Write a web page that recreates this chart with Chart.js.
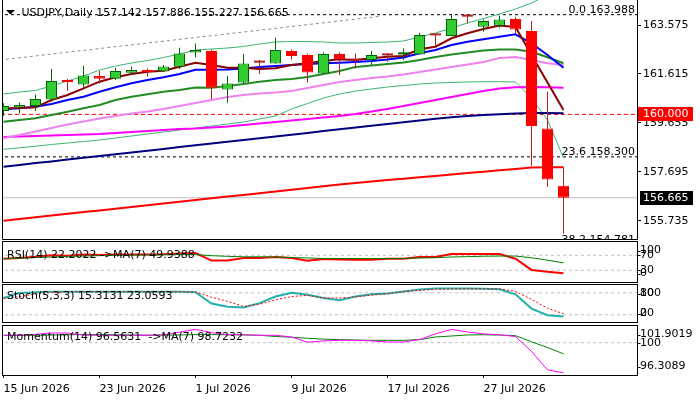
<!DOCTYPE html>
<html><head><meta charset="utf-8">
<script src="https://cdn.jsdelivr.net/npm/chart.js@4.4.1/dist/chart.umd.min.js"></script>
<style>
html,body{margin:0;padding:0;background:#fff;}
#wrap{position:relative;width:700px;height:400px;overflow:hidden;background:#fff;}
canvas{position:absolute;left:0;top:0;}
</style></head><body>
<div id="wrap">
<canvas id="cMain" width="700" height="400"></canvas>
<canvas id="cRsi" width="700" height="400"></canvas>
<canvas id="cSto" width="700" height="400"></canvas>
<canvas id="cMom" width="700" height="400"></canvas>
</div>
<script>
// ---------------- DATA ----------------
const symbolName = 'USDJPY,Daily';
const dates = ['15 Jun 2026','16 Jun 2026','17 Jun 2026','18 Jun 2026','19 Jun 2026','22 Jun 2026','23 Jun 2026','24 Jun 2026','25 Jun 2026','26 Jun 2026','29 Jun 2026','30 Jun 2026','1 Jul 2026','2 Jul 2026','3 Jul 2026','6 Jul 2026','7 Jul 2026','8 Jul 2026','9 Jul 2026','10 Jul 2026','13 Jul 2026','14 Jul 2026','15 Jul 2026','16 Jul 2026','17 Jul 2026','20 Jul 2026','21 Jul 2026','22 Jul 2026','23 Jul 2026','24 Jul 2026','27 Jul 2026','28 Jul 2026','29 Jul 2026','30 Jul 2026','31 Jul 2026','3 Aug 2026'];
const dateTickIdx = [0,6,12,18,24,30];

const opens  = [160.135,160.28,160.335,160.6,161.375,161.2,161.535,161.43,161.67,161.775,161.72,161.91,162.48,162.535,161.0,161.28,162.095,162.04,162.535,162.375,161.64,162.415,162.175,162.175,162.415,162.4,162.4,163.19,163.135,163.95,163.51,163.55,163.815,163.335,159.44,157.142];
const highs  = [160.45,160.48,160.8,161.815,161.415,161.95,161.735,161.855,161.91,161.84,161.975,162.67,162.84,162.6,161.535,162.415,162.175,163.07,162.6,162.44,162.48,162.48,162.44,162.535,162.44,162.64,163.27,163.2,163.975,163.988,163.8,163.935,163.91,163.735,160.91,157.886];
const lows   = [159.95,160.04,160.135,160.51,160.95,161.08,161.24,161.375,161.575,161.51,161.72,161.815,162.28,160.6,160.47,161.24,161.615,162.04,162.2,161.28,161.64,161.575,161.84,161.975,162.11,162.175,162.4,162.71,163.135,163.64,163.31,163.47,163.24,157.95,157.11,155.227];
const closes = [160.335,160.375,160.615,161.335,161.295,161.56,161.43,161.735,161.775,161.695,161.92,162.44,162.575,161.07,161.24,162.04,162.07,162.575,162.335,161.68,162.415,162.215,162.15,162.375,162.36,162.455,163.175,163.16,163.815,163.91,163.735,163.8,163.4,159.535,157.4,156.665];

const emaFast   = [160.243,160.255,160.283,160.575,160.775,161.043,161.307,161.483,161.615,161.707,161.747,161.907,162.067,161.975,161.867,161.867,161.815,161.843,161.975,162.043,162.135,162.203,162.175,162.243,162.307,162.335,162.603,162.707,163.043,163.243,163.415,163.555,163.495,162.375,161.275,160.175];
const emaMid    = [160.203,160.243,160.307,160.415,160.575,160.707,160.907,161.083,161.243,161.375,161.483,161.615,161.787,161.787,161.795,161.835,161.895,161.935,161.975,162.015,162.043,162.067,162.095,162.135,162.195,162.275,162.443,162.575,162.775,162.907,163.003,163.107,163.203,162.843,162.375,161.867];
const sma20     = [159.707,159.775,159.843,159.975,160.107,160.243,160.375,160.575,160.707,160.803,160.907,160.975,161.075,161.067,161.135,161.215,161.307,161.375,161.415,161.495,161.615,161.735,161.895,161.955,162.015,162.075,162.175,162.295,162.395,162.475,162.555,162.595,162.595,162.507,162.283,162.043];
const bbUpper   = [160.815,160.895,160.955,161.135,161.335,161.535,161.775,161.935,162.055,162.155,162.275,162.415,162.575,162.615,162.655,162.715,162.815,162.895,162.915,162.915,162.895,162.855,162.855,162.875,162.895,162.935,163.095,163.255,163.455,163.655,163.835,164.015,164.215,164.455,164.775,165.815];
const bbLower   = [158.603,158.663,158.727,158.795,158.855,158.915,158.975,159.055,159.135,159.215,159.295,159.375,159.455,159.535,159.615,159.695,159.815,159.935,160.215,160.435,160.655,160.815,160.935,161.015,161.095,161.155,161.215,161.255,161.275,161.295,161.307,161.307,161.295,160.655,159.775,158.255];
const maViolet  = [159.043,159.175,159.315,159.455,159.595,159.715,159.835,159.935,160.035,160.115,160.215,160.335,160.455,160.575,160.695,160.775,160.835,160.875,160.935,161.055,161.175,161.295,161.375,161.455,161.515,161.595,161.695,161.795,161.895,161.995,162.095,162.255,162.295,162.175,162.043,161.975];
const maMagenta = [159.095,159.115,159.135,159.155,159.175,159.195,159.215,159.255,159.295,159.335,159.375,159.415,159.435,159.475,159.515,159.575,159.635,159.695,159.755,159.815,159.875,159.935,160.015,160.115,160.215,160.335,160.455,160.575,160.695,160.815,160.935,161.035,161.083,161.095,161.083,161.067];
const maNavy    = [157.907,157.979,158.051,158.119,158.191,158.263,158.335,158.407,158.475,158.547,158.619,158.691,158.763,158.831,158.903,158.975,159.047,159.119,159.187,159.259,159.331,159.403,159.475,159.543,159.615,159.687,159.755,159.827,159.887,159.935,159.975,160.007,160.035,160.055,160.055,160.043];
const ma200     = [155.747,155.815,155.883,155.955,156.023,156.091,156.159,156.227,156.299,156.367,156.435,156.503,156.571,156.643,156.711,156.779,156.847,156.915,156.987,157.055,157.123,157.191,157.259,157.315,157.371,157.427,157.483,157.539,157.595,157.651,157.707,157.763,157.819,157.875,157.883,157.883];

const trendX = [-0.22, 23.6];
const trendY = [162.175, 163.927];
const fibNames  = ['0.0','23.6','38.2'];
const fibValues = [163.988, 158.300, 154.781];
const redLevel = 160.000;
const bidPrice = 156.665;
const priceTicks = [163.575, 161.615, 159.655, 157.695, 155.735];

const rsi    = [61,63,66,70,69,72,71,72,72,72,73,75,76,56,56,62.8,62.8,65.5,62.8,55.6,60,59,58.3,58.3,61,61,65.5,65.5,73.5,73.5,73.5,73.5,61,31,26,22.2022];
const rsiMa  = [61,62,64,65.5,67,68,69,70,70.5,71,71.5,72,72,69,67.3,66,66,65.5,64,63,61.5,61.5,61.5,61.5,61,61.5,62.8,63.5,65.5,66.5,67.5,68,68,63.5,57,49.9388];
const rsiLevels = [70, 30];
const rsiAxis = [100, 70, 30, 0];

const stochK = [66,80,82,83,83,83,83,83,83,83,83,83,82,51,42,40,52,70,80,75,66,60,70,76,78,84,89,91.8,92,92,91,90,76,37,19,15.3131];
const stochD = [64,70,77,81,83,83,83,83,83,83,83,83,83,68,57,43,49,61,70,73,66,66,69,73.6,78,83,87,90,90.5,91,91,91,84,62,38,23.0593];
const stochLevels = [80, 20];
const stochAxis = [100, 80, 20, 0];

const mom   = [100.84,100.84,100.95,101.1,101.1,100.86,100.84,100.84,100.84,100.84,100.9,101.2,101.52,101.15,100.91,100.91,100.84,100.84,100.65,100.05,100.2,100.27,100.27,100.2,100.08,100.08,100.35,101.0,101.52,101.22,101.0,100.9,100.7,99.0,96.9,96.5631];
const momMa = [100.84,100.84,100.85,100.87,100.9,100.92,100.92,100.9,100.88,100.86,100.86,100.88,100.92,100.92,100.9,100.88,100.85,100.7,100.62,100.5,100.4,100.35,100.3,100.27,100.27,100.27,100.35,100.65,100.76,100.88,100.9,100.87,100.8,100.1,99.45,98.7232];
const momLevels = [100];
const momAxis = [101.9019, 100, 96.3089];

// ---------------- SETUP ----------------
const FONT = "11px 'DejaVu Sans'";
Chart.defaults.font.family = "'DejaVu Sans', sans-serif";
Chart.defaults.font.size = 11;
Chart.defaults.color = '#000';
Chart.defaults.animation = false;

const X_MIN = -0.03125, X_MAX = X_MIN + 634 / 16;
const xy = arr => arr.map((v, i) => ({x: i, y: v}));
const hline = v => [{x: X_MIN - 1, y: v}, {x: X_MAX + 1, y: v}];
const N = closes.length;
const isUp = i => closes[i] >= opens[i];
const isDoji = i => Math.abs(closes[i] - opens[i]) < 0.06;
const wickCol = i => isUp(i) ? '#006400' : '#B22222';

function lineSet(data, color, width, order, dash) {
  return {type: 'line', data, borderColor: color, borderWidth: width, pointRadius: 0,
    fill: false, tension: 0, order, borderDash: dash || [], borderCapStyle: 'butt'};
}

function baseOpts(pad, yMin, yMax) {
  return {
    responsive: false, animation: false, events: [],
    layout: {padding: pad},
    plugins: {legend: {display: false}, tooltip: {enabled: false}},
    scales: {
      x: {type: 'linear', min: X_MIN, max: X_MAX, offset: false, display: false},
      y: {type: 'linear', min: yMin, max: yMax, display: false}
    }
  };
}

// ---------------- MAIN CHART ----------------
const mainSets = [
  {type: 'bar', data: opens.map((o, i) => ({x: i, y: [o, closes[i]]})),
   backgroundColor: opens.map((o, i) => isDoji(i) ? wickCol(i) : (isUp(i) ? '#32CD32' : '#FF0000')),
   borderColor: opens.map((o, i) => isDoji(i) ? wickCol(i) : (isUp(i) ? '#006400' : '#FF0000')),
   borderWidth: ctx => isDoji(ctx.dataIndex) ? 0 : 1,
   borderSkipped: false, barThickness: 11, minBarLength: 2, grouped: false, inflateAmount: 0, order: 0},
  {type: 'bar', data: lows.map((l, i) => ({x: i, y: [l, highs[i]]})),
   backgroundColor: lows.map((l, i) => wickCol(i)), borderWidth: 0,
   barThickness: 1, grouped: false, inflateAmount: 0, order: 1},
  lineSet(xy(emaFast), '#8B0000', 2, 2),
  lineSet(xy(emaMid), '#0000FF', 2, 3),
  lineSet(xy(sma20), '#228B22', 2, 4),
  lineSet(xy(maViolet), '#EE82EE', 2, 5),
  lineSet(xy(maMagenta), '#FF00FF', 2, 6),
  lineSet(xy(maNavy), '#000080', 2, 7),
  lineSet(xy(ma200), '#FF0000', 2, 8),
  lineSet(xy(bbUpper), '#3CB371', 1, 9),
  lineSet(xy(bbLower), '#3CB371', 1, 9),
  lineSet(trendX.map((x, k) => ({x, y: trendY[k]})), '#8C8C8C', 1, 10, [3, 3]),
  ...fibValues.map(v => lineSet(hline(v), '#000000', 1, 10, [3, 3])),
  lineSet(hline(redLevel), '#FF0000', 1, 10, [4, 3]),
  lineSet(hline(bidPrice), '#C0C0C0', 1, 11)
];

const mainOpts = baseOpts({left: 3, top: 0, right: 0, bottom: 161}, 155.015, 164.575);
mainOpts.scales.y = {
  type: 'linear', position: 'right', min: 155.015, max: 164.575, display: true,
  border: {display: true, color: '#000', width: 1},
  grid: {display: true, drawOnChartArea: false, drawTicks: true, tickLength: 4, color: '#000'},
  ticks: {padding: 2, color: '#000', autoSkip: false, font: {size: 11}, callback: v => Number(v).toFixed(3)},
  afterBuildTicks: ax => { ax.ticks = priceTicks.map(v => ({value: v})); },
  afterFit: ax => { ax.width = 63; ax.paddingTop = 0; ax.paddingBottom = 0; }
};

const mainDeco = {
  id: 'mainDeco',
  afterDatasetsDraw(chart) {
    const {ctx, chartArea: ca, scales: {y}} = chart;
    ctx.save();
    ctx.beginPath(); ctx.rect(ca.left, ca.top, ca.right - ca.left, ca.bottom - ca.top); ctx.clip();
    ctx.font = FONT; ctx.fillStyle = '#000'; ctx.textAlign = 'right'; ctx.textBaseline = 'alphabetic';
    fibValues.forEach((v, k) => ctx.fillText(fibNames[k] + ' ' + v.toFixed(3), ca.right - 2, Math.round(y.getPixelForValue(v)) - 2));
    ctx.restore();
  },
  afterDraw(chart) {
    const {ctx, chartArea: ca, scales: {y}} = chart;
    ctx.save();
    ctx.strokeStyle = '#000'; ctx.lineWidth = 1;
    ctx.beginPath();
    ctx.moveTo(ca.left - 0.5, ca.top); ctx.lineTo(ca.left - 0.5, ca.bottom + 0.5);
    ctx.lineTo(ca.right + 0.5, ca.bottom + 0.5); ctx.lineTo(ca.right + 0.5, ca.top);
    ctx.stroke();
    // header
    ctx.fillStyle = '#000';
    ctx.beginPath(); ctx.moveTo(6, 10); ctx.lineTo(15, 10); ctx.lineTo(10.5, 14.5); ctx.closePath(); ctx.fill();
    ctx.font = FONT; ctx.textAlign = 'left'; ctx.textBaseline = 'alphabetic';
    const L = N - 1;
    ctx.fillText(symbolName + ' ' + [opens[L], highs[L], lows[L], closes[L]].map(v => v.toFixed(3)).join(' '), 21.5, 16);
    // price boxes
    ctx.textBaseline = 'middle';
    const yr = Math.round(y.getPixelForValue(redLevel));
    ctx.fillStyle = '#FF0000'; ctx.fillRect(638, yr - 7, 55, 14);
    ctx.fillStyle = '#FFFFFF'; ctx.fillText(redLevel.toFixed(3), 643, yr + 0.5);
    const yb = Math.round(y.getPixelForValue(bidPrice));
    ctx.fillStyle = '#000000'; ctx.fillRect(640, yb - 7, 53, 14);
    ctx.fillStyle = '#FFFFFF'; ctx.fillText(bidPrice.toFixed(3), 643, yb + 0.5);
    ctx.restore();
  }
};

new Chart(document.getElementById('cMain'), {type: 'bar', data: {datasets: mainSets}, options: mainOpts, plugins: [mainDeco]});

// ---------------- INDICATOR PANELS ----------------
function panelDeco(id, title, titleDy, axisVals, fmt) {
  return {
    id,
    afterDatasetsDraw(chart) {
      const {ctx, chartArea: ca} = chart;
      ctx.save();
      ctx.font = FONT; ctx.fillStyle = '#000'; ctx.textAlign = 'left'; ctx.textBaseline = 'alphabetic';
      ctx.fillText(title, 7, ca.top + titleDy);
      ctx.restore();
    },
    afterDraw(chart) {
      const {ctx, chartArea: ca, scales: {y}} = chart;
      ctx.save();
      ctx.strokeStyle = '#000'; ctx.lineWidth = 1;
      ctx.strokeRect(ca.left - 0.5, ca.top - 0.5, ca.right - ca.left + 1, ca.bottom - ca.top + 1);
      ctx.font = FONT; ctx.fillStyle = '#000'; ctx.textAlign = 'left'; ctx.textBaseline = 'middle';
      axisVals.forEach(v => {
        const py = Math.min(Math.max(y.getPixelForValue(v), ca.top + 8.5), ca.bottom - 8.5);
        ctx.fillText(fmt(v), 640, py);
        ctx.beginPath(); ctx.moveTo(ca.right + 0.5, Math.round(py) + 0.5); ctx.lineTo(ca.right + 3.5, Math.round(py) + 0.5); ctx.stroke();
      });
      ctx.restore();
    }
  };
}
const lvlSets = levels => levels.map(v => lineSet(hline(v), '#C0C0C0', 1, 10, [3, 3]));

// RSI
new Chart(document.getElementById('cRsi'), {
  type: 'line',
  data: {datasets: [
    lineSet(xy(rsiMa), '#008000', 1, 0),
    lineSet(xy(rsi), '#FF0000', 2, 1),
    ...lvlSets(rsiLevels)
  ]},
  options: baseOpts({left: 3, top: 242, right: 63, bottom: 118}, -1.2, 105.5),
  plugins: [panelDeco('rsiDeco', 'RSI(14) ' + rsi[N - 1].toFixed(4) + ' ->MA(7) ' + rsiMa[N - 1].toFixed(4), 16, rsiAxis, v => String(v))]
});

// Stochastic
new Chart(document.getElementById('cSto'), {
  type: 'line',
  data: {datasets: [
    lineSet(xy(stochD), '#FF0000', 1, 0, [2, 2]),
    lineSet(xy(stochK), '#20B2AA', 2, 1),
    ...lvlSets(stochLevels)
  ]},
  options: baseOpts({left: 3, top: 285, right: 63, bottom: 78}, 0.4, 101.5),
  plugins: [panelDeco('stoDeco', 'Stoch(5,3,3) ' + stochK[N - 1].toFixed(4) + ' ' + stochD[N - 1].toFixed(4), 14, stochAxis, v => String(v))]
});

// Momentum + date axis
const momOpts = baseOpts({left: 3, top: 326, right: 63, bottom: 0}, 96.3089, 101.9019);
momOpts.scales.x = {
  type: 'linear', min: X_MIN, max: X_MAX, offset: false, position: 'bottom', display: true,
  border: {display: true, color: '#000', width: 1},
  grid: {display: true, drawOnChartArea: false, drawTicks: true, tickLength: 3, color: '#000'},
  ticks: {align: 'start', padding: 5, maxRotation: 0, minRotation: 0, autoSkip: false, color: '#000', font: {size: 11},
    callback: v => dates[v] !== undefined ? dates[v] : ''},
  afterBuildTicks: ax => { ax.ticks = dateTickIdx.map(v => ({value: v})); },
  afterFit: ax => { ax.height = 25; ax.paddingLeft = 0; ax.paddingRight = 0; }
};
new Chart(document.getElementById('cMom'), {
  type: 'line',
  data: {datasets: [
    lineSet(xy(mom), '#FF00FF', 1, 0),
    lineSet(xy(momMa), '#008000', 1, 1),
    ...lvlSets(momLevels)
  ]},
  options: momOpts,
  plugins: [panelDeco('momDeco', 'Momentum(14) ' + mom[N - 1].toFixed(4) + '  ->MA(7) ' + momMa[N - 1].toFixed(4), 13.5, momAxis, v => (v === 100 ? '100' : v.toFixed(4)))]
});
</script>
</body></html>
